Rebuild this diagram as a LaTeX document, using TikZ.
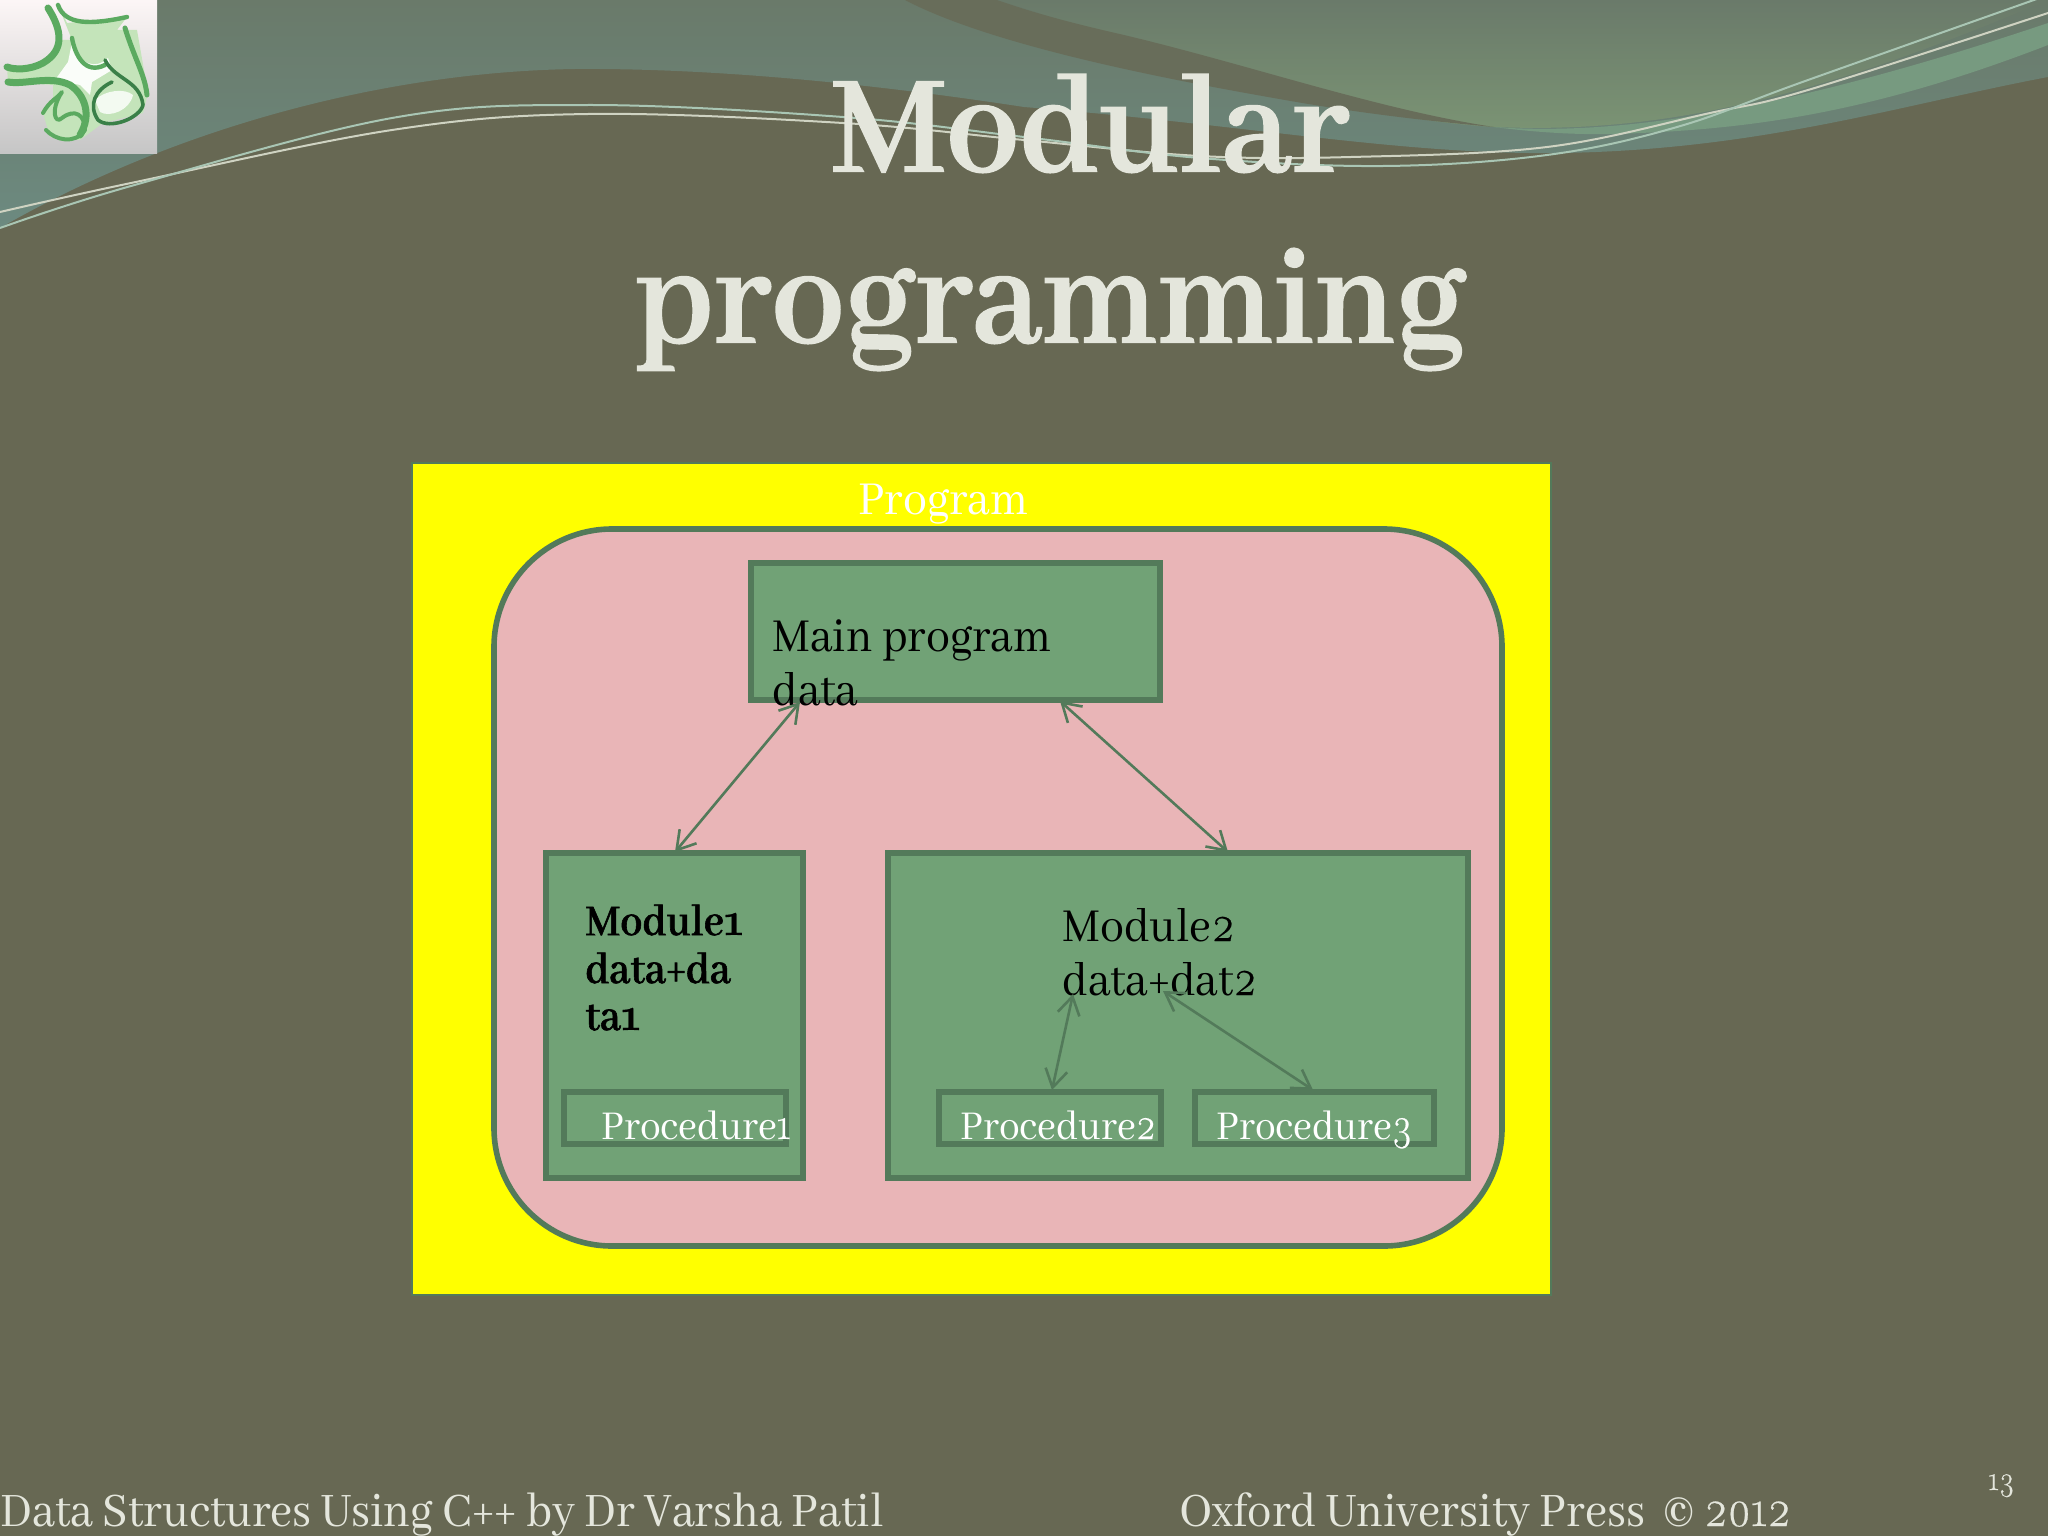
\documentclass[tikz,border=0pt]{standalone}
\usepackage{fontspec}
\usetikzlibrary{calc,arrows.meta}
\setmainfont{Abhaya Libre}[FakeStretch=0.92,BoldFeatures={FakeBold=1.2}]
\newfontfamily\titlefam{Abhaya Libre}[FakeStretch=0.96,BoldFeatures={FakeBold=1.4}]
\newfontfamily\osffam{Latin Modern Roman}[Numbers=OldStyle,FakeBold=0.4,FakeStretch=0.85]
\newcommand{\osfd}[1]{{\osffam #1}}
\definecolor{basebg}{HTML}{676853}
\definecolor{bandtop}{HTML}{6A7A6A}
\definecolor{bandteal}{HTML}{6C8A80}
\definecolor{skybot}{HTML}{7B9474}
\definecolor{lightband}{HTML}{779A80}
\definecolor{boxgreen}{HTML}{71A276}
\definecolor{boxline}{HTML}{537A5A}
\definecolor{pinkfill}{HTML}{E9B5B7}
\definecolor{titlecol}{HTML}{E4E6DC}
\definecolor{wavea}{HTML}{CFD3C2}
\definecolor{waveb}{HTML}{A9C6B4}
\definecolor{pureyellow}{HTML}{FFFF00}
\definecolor{glass}{HTML}{C4E4BA}
\definecolor{glassline}{HTML}{5BAA60}
\definecolor{glassdark}{HTML}{3A8048}
\tikzset{
  modbox/.style={draw=boxline,line width=3pt,fill=boxgreen,inner sep=0pt},
  dbl/.style={draw=boxline,line width=1.3pt,{Straight Barb[length=9pt,width=11pt]}-{Straight Barb[length=9pt,width=11pt]}},
  blk/.style={text=black,font=\fontsize{26}{28}\selectfont,inner sep=0pt,anchor=base west},
  blkb/.style={text=black,font=\fontsize{24}{26}\selectfont\bfseries,inner sep=0pt,anchor=base west},
  wht/.style={text=white,font=\fontsize{22.5}{24}\selectfont,inner sep=0pt,anchor=base west},
  foot/.style={text=titlecol,font=\fontsize{26.4}{29}\selectfont,inner sep=0pt,anchor=base west},
  titletext/.style={text=titlecol,font=\titlefam\fontsize{76}{76}\selectfont\bfseries,inner sep=0pt,anchor=base},
}
\begin{document}
\begin{tikzpicture}[x=0.5pt,y=-0.5pt]
\useasboundingbox (0,0) rectangle (2048,1536);
\fill[basebg] (0,0) rectangle (2048,1536);
% top band
\shade[top color=bandtop,bottom color=bandteal]
 (0,0) -- (2048,0) -- (2048,77)
 .. controls (1900,105) and (1760,150) .. (1560,153)
 .. controls (1400,155) and (1250,125) .. (1024,107)
 .. controls (880,85) and (720,68) .. (575,69)
 .. controls (380,72) and (170,130) .. (0,228) -- cycle;
% sky above swoosh
\shade[top color=bandtop,bottom color=skybot]
 (997,0) .. controls (1100,30) and (1300,115) .. (1494,127)
 .. controls (1640,133) and (1790,110) .. (2048,0) -- cycle;
% light band on right
\fill[lightband]
 (1494,127) .. controls (1600,135) and (1760,120) .. (2048,23)
 -- (2048,45) .. controls (1880,110) and (1760,128) .. (1640,133) .. controls (1590,136) and (1540,133) .. (1494,127) -- cycle;
% dark swoosh
\fill[basebg!85!bandteal]
 (905,0) .. controls (1000,50) and (1200,85) .. (1285,100)
 .. controls (1370,115) and (1440,122) .. (1494,127)
 .. controls (1380,110) and (1250,65) .. (1124,35)
 .. controls (1080,25) and (1040,15) .. (997,0) -- cycle;
% wave lines
\draw[wavea,line width=1pt] plot[smooth,tension=0.6] coordinates {(0,212) (131,183) (392,130) (588,114) (843,123) (1024,140) (1200,156) (1351,157) (1547,147) (1710,113) (1808,90) (2048,13)};
\draw[waveb,line width=1pt] plot[smooth,tension=0.6] coordinates {(0,228) (131,186) (392,118) (588,105) (843,117) (1024,137) (1200,158) (1383,166) (1547,155) (1677,127) (1808,80) (2048,-5)};
% logo
\shade[top color=white!88!pinkfill,middle color=white!85!pinkfill,bottom color=gray!45!white] (0,0) rectangle (157,153);
\begin{scope}[line cap=round,line join=round]
\fill[glass] (58,5) -- (67,23) -- (127,17) -- (117,30) -- (137,30) -- (148,93) -- (143,113) -- (103,123) -- (80,140) -- (50,137) -- (43,113) -- (53,97) -- (53,85) -- (8,82) -- (7,67) -- (43,63) -- (60,45) -- (48,8) -- (62,40) -- (72,40) -- cycle;
\fill[white!92!glass] (72,42) .. controls (80,65) and (95,70) .. (108,58) -- (112,70) -- (92,82) -- (90,95) -- (80,85) -- (55,80) -- (68,62) -- cycle;
\fill[white!80!glass] (95,100) .. controls (105,90) and (125,88) .. (133,95) .. controls (130,110) and (110,118) .. (100,112) -- cycle;
\draw[glassline,line width=3.5pt] (48,8) .. controls (62,30) and (65,50) .. (43,63) .. controls (30,70) and (15,70) .. (7,67);
\draw[glassline,line width=3.5pt] (8,82) .. controls (25,85) and (50,75) .. (70,85) .. controls (85,95) and (92,115) .. (80,135);
\draw[glassline,line width=2.2pt] (58,5) .. controls (65,25) and (90,25) .. (127,17);
\draw[glassline,line width=2.2pt] (72,38) .. controls (75,55) and (85,75) .. (105,65);
\draw[glassline,line width=2.5pt] (125,28) .. controls (135,60) and (145,75) .. (147,95);
\draw[glassdark,line width=1.8pt] (105,60) .. controls (115,80) and (140,80) .. (143,105) .. controls (140,118) and (110,130) .. (98,120) .. controls (88,105) and (95,90) .. (112,82);
\draw[glassline,line width=2pt] (43,113) .. controls (50,100) and (58,98) .. (62,92) .. controls (50,110) and (55,125) .. (62,118) .. controls (75,108) and (85,115) .. (85,130) .. controls (75,145) and (55,140) .. (46,130);
\end{scope}
% title
\node[titletext] (t1) at (1090,171) {Modular};
\node[titletext] (t2) at (1050,342) {programming};
% program frame
\fill[pureyellow,draw=boxline,line width=0.8pt] (412,463) rectangle (1551,1295);
\fill[pinkfill,draw=boxline,line width=2.8pt,rounded corners=59pt] (494,529) rectangle (1502,1246);
\node[text=white,font=\fontsize{26}{28}\selectfont,inner sep=0pt,anchor=base west] (ptext) at (858,514) {Program};
% boxes
\node[modbox,minimum width=204.5pt,minimum height=68.5pt] (main) at (955.5,631.5) {};
\node[modbox,minimum width=128.5pt,minimum height=162.5pt] (mod1) at (674.5,1015.5) {};
\node[modbox,minimum width=290pt,minimum height=162.5pt] (mod2) at (1178,1015.5) {};
\node[modbox,minimum width=111pt,minimum height=26pt] (p1) at (675,1118) {};
\node[modbox,minimum width=111pt,minimum height=26pt] (p2) at (1050,1118) {};
\node[modbox,minimum width=119.5pt,minimum height=26pt] (p3) at (1314.5,1118) {};
% texts
\node[blk] (mtext) at (772,651) {Main program};
\node[blk] (mdata) at (772,705) {data};
\node[blkb] (m1a) at (585,935) {Module\osfd{1}};
\node[blkb] (m1b) at (585,983) {data+da};
\node[blkb] (m1c) at (585,1030) {ta\osfd{1}};
\node[blk] (m2a) at (1062,941) {Module\osfd{2}};
\node[blk] (m2b) at (1062,995) {data+dat\osfd{2}};
\node[wht] (p1t) at (601,1139) {Procedure\osfd{1}};
\node[wht] (p2t) at (960,1139) {Procedure\osfd{2}};
\node[wht] (p3t) at (1216,1139) {Procedure\osfd{3}};
% arrows
\draw[dbl] ($(main.south west)+(26pt,0.5pt)$) -- ($(mod1.north west)+(66pt,-1pt)$);
\draw[dbl] ($(main.south west)+(156pt,1pt)$) -- ($(mod2.north west)+(171.5pt,-1pt)$);
\draw[dbl] ($(m2b.base west)+(5.5pt,0.5pt)$) -- ($(p2.north west)+(58pt,-0.5pt)$);
\draw[dbl] ($(m2b.base west)+(50.5pt,2pt)$) -- ($(p3.north west)+(60.5pt,-0.5pt)$);
% footer
\node[foot] (f1) at (0,1526) {Data Structures Using C++ by Dr Varsha Patil};
\node[foot] (f2) at (1179,1526) {Oxford University Press\ \ © \osfd{2012}};
\node[text=titlecol,font=\osffam\fontsize{17}{18}\selectfont,inner sep=0pt,anchor=base west] (f3) at (1988,1490) {13};
\end{tikzpicture}
\end{document}
